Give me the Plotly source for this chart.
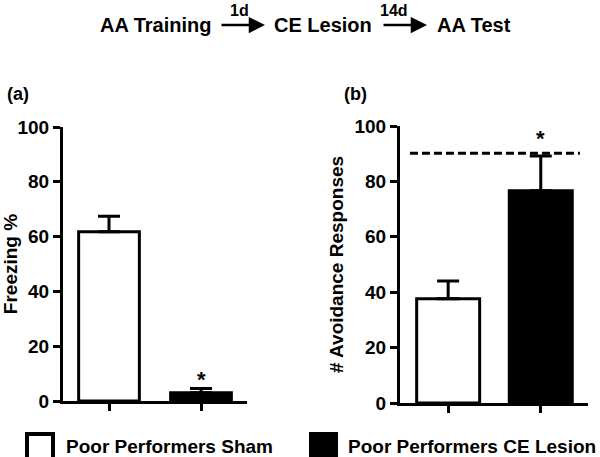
import plotly.graph_objects as go

groups = ["Poor Performers Sham", "Poor Performers CE Lesion"]
bar_colors = ["white", "black"]
freezing_mean = [61.8, 3.0]
freezing_sem = [5.6, 1.6]
avoid_mean = [37.6, 76.6]
avoid_sem = [6.4, 12.6]
criterion = 90.2
y_ticks = [0, 20, 40, 60, 80, 100]
sig_a = [False, True]
sig_b = [False, True]

FONT = "Liberation Sans, Arial, sans-serif"

fig = go.Figure()

fig.add_trace(go.Bar(
    x=groups, y=freezing_mean, width=0.66,
    marker=dict(color=bar_colors, line=dict(color="black", width=3)),
    error_y=dict(type="data", symmetric=False, array=freezing_sem,
                 arrayminus=[0, 0], color="black", thickness=3, width=11),
    xaxis="x", yaxis="y", showlegend=False))

fig.add_trace(go.Bar(
    x=groups, y=avoid_mean, width=0.68,
    marker=dict(color=bar_colors, line=dict(color="black", width=3)),
    error_y=dict(type="data", symmetric=False, array=avoid_sem,
                 arrayminus=[0, 0], color="black", thickness=3, width=11),
    xaxis="x2", yaxis="y2", showlegend=False))

axis_common = dict(showline=True, linewidth=3, linecolor="black",
                   ticks="outside", ticklen=7, tickwidth=3, tickcolor="black",
                   showgrid=False, zeroline=False, automargin=False)

W, H = 600, 457

fig.update_layout(
    template="none",
    width=W, height=H, autosize=False,
    margin=dict(l=0, r=0, t=0, b=0, pad=0),
    plot_bgcolor="white", paper_bgcolor="white",
    font=dict(family=FONT, color="black"),
    showlegend=False,
    xaxis=dict(domain=[63 / W, 247 / W], range=[-0.5, 1.5], type="category",
               showticklabels=False, anchor="y", **axis_common),
    yaxis=dict(domain=[1 - 401 / H, 1 - 127 / H], range=[0, 100],
               tickvals=y_ticks, anchor="x",
               tickfont=dict(size=19, weight="bold", family=FONT),
               title=dict(text="Freezing %", standoff=6,
                          font=dict(size=19, weight="bold", family=FONT)),
               **axis_common),
    xaxis2=dict(domain=[400 / W, 588 / W], range=[-0.52, 1.51], type="category",
                showticklabels=False, anchor="y2", **axis_common),
    yaxis2=dict(domain=[1 - 403 / H, 1 - 126 / H], range=[0, 100],
                tickvals=y_ticks, anchor="x2",
                tickfont=dict(size=19, weight="bold", family=FONT),
                title=dict(text="# Avoidance Responses", standoff=6,
                           font=dict(size=19, weight="bold", family=FONT)),
                **axis_common),
)

# criterion dashed line
fig.add_shape(type="line", xref="x2 domain", yref="y2",
              x0=0.053, x1=0.957, y0=criterion, y1=criterion,
              line=dict(color="black", width=3, dash="8px,4px"))

# significance stars
for i, s in enumerate(sig_a):
    if s:
        fig.add_annotation(x=groups[i], y=freezing_mean[i] + freezing_sem[i],
                           xref="x", yref="y", text="*", showarrow=False,
                           yanchor="bottom", yshift=-6,
                           font=dict(size=22, family=FONT, weight="bold"))
for i, s in enumerate(sig_b):
    if s:
        fig.add_annotation(x=groups[i], y=avoid_mean[i] + avoid_sem[i],
                           xref="x2", yref="y2", text="*", showarrow=False,
                           yanchor="bottom", yshift=3,
                           font=dict(size=22, family=FONT, weight="bold"))

def ptxt(text, x, y, size, anchor="center"):
    fig.add_annotation(x=x / W, y=1 - y / H, xref="paper", yref="paper",
                       text=text, showarrow=False, xanchor=anchor,
                       yanchor="middle",
                       font=dict(size=size, family=FONT, weight="bold"))

# protocol header
ptxt("AA Training", 155, 25, 20)
ptxt("CE Lesion", 323, 25, 20)
ptxt("AA Test", 474, 25, 20)
ptxt("1d", 239, 10, 16)
ptxt("14d", 394, 10, 16)
for x0, x1 in [(220, 265), (382, 427)]:
    fig.add_annotation(x=x1 / W, y=1 - 25 / H, xref="paper", yref="paper",
                       ax=-(x1 - x0), ay=0, axref="pixel", ayref="pixel",
                       text="", showarrow=True, arrowhead=2, arrowsize=1.3,
                       arrowwidth=2.5, arrowcolor="black")

# panel letters
ptxt("(a)", 5, 94, 18, anchor="left")
ptxt("(b)", 342, 94, 18, anchor="left")

# legend (manual)
fig.add_shape(type="rect", xref="paper", yref="paper",
              x0=27 / W, x1=53 / W, y0=1 - 459 / H, y1=1 - 434 / H,
              fillcolor="white", line=dict(color="black", width=4))
fig.add_shape(type="rect", xref="paper", yref="paper",
              x0=309 / W, x1=338 / W, y0=1 - 461 / H, y1=1 - 432 / H,
              fillcolor="black", line=dict(color="black", width=0))
ptxt(groups[0], 64, 446, 19, anchor="left")
ptxt(groups[1], 346, 446, 19, anchor="left")

fig.write_html(
    "out.html",
    config={"displayModeBar": False},
    post_script="document.documentElement.style.margin='0';"
                "document.body.style.margin='0';"
                "document.body.style.overflow='hidden';")
